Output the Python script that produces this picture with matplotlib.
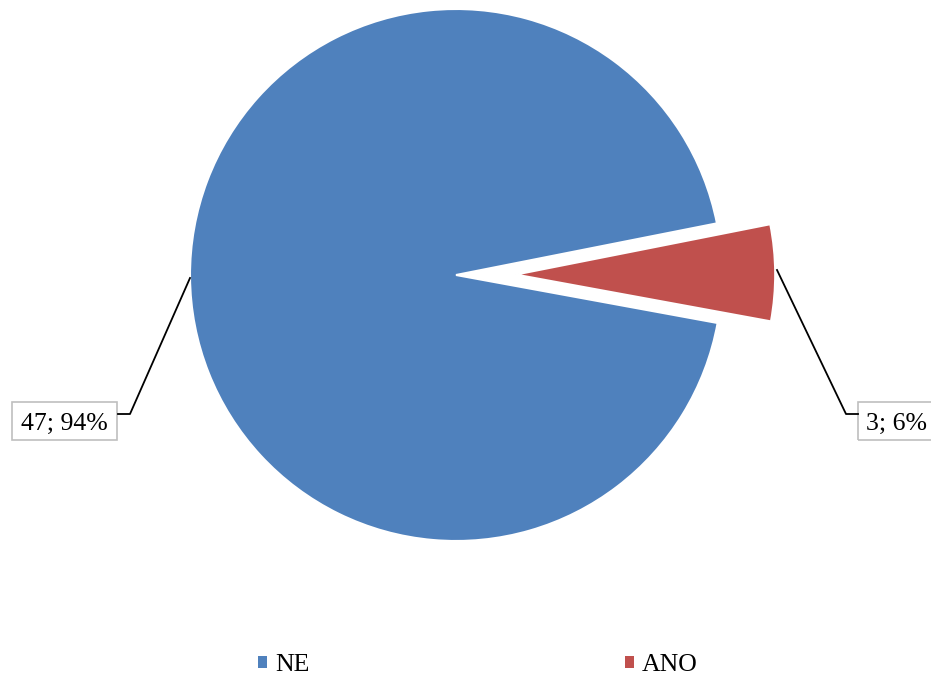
import matplotlib
matplotlib.use('Agg')
import matplotlib.pyplot as plt
from matplotlib.patches import Rectangle
import numpy as np

plt.rcParams['font.family'] = ['Liberation Serif', 'DejaVu Serif']

labels = ['NE', 'ANO']
counts = [47, 3]
percents = [94, 6]
colors = ['#4F81BD', '#C0504D']
explode = [0.0, 0.225]

W, H = 931, 676
cx, cy, R = 456, 275, 266

fig = plt.figure(figsize=(W / 100, H / 100), dpi=100)
ax = fig.add_axes([0, 0, 1, 1])
ax.axis('off')

half = 360 * counts[1] / sum(counts) / 2
wedges, _ = ax.pie(counts, colors=colors, explode=explode, radius=1.0,
                   startangle=half + 0.4, counterclock=True,
                   wedgeprops=dict(edgecolor='white', linewidth=1.5))
# the pulled-out slice is drawn a little smaller
wedges[1].set_radius(0.975)

# pie() resets the view, so fix the pixel mapping afterwards
ax.set_aspect('auto')
ax.set_xlim(-cx / R, (W - cx) / R)
ax.set_ylim(-(H - cy) / R, cy / R)

def px(x, y):
    return ((x - cx) / R, (cy - y) / R)

fs = 18.5
# data labels with leader lines
lab = ['%d; %d%%' % (c, p) for c, p in zip(counts, percents)]

pts = [px(190, 278), px(130, 414), px(118, 414)]
ax.plot(*zip(*pts), color='black', lw=1.3)
x0, y0 = px(12, 440)
x1, y1 = px(117, 402)
ax.add_patch(Rectangle((x0, y0), x1 - x0, y1 - y0, fill=False,
                       edgecolor='#BFBFBF', lw=1.2))
ax.text((x0 + x1) / 2, (y0 + y1) / 2, lab[0], fontsize=fs,
        ha='center', va='center_baseline')

pts = [px(777, 270), px(846, 414), px(858, 414)]
ax.plot(*zip(*pts), color='black', lw=1.3)
x0, y0 = px(858, 440)
x1, y1 = px(935, 402)
ax.add_patch(Rectangle((x0, y0), x1 - x0, y1 - y0, fill=False,
                       edgecolor='#BFBFBF', lw=1.2))
ax.text(px(866, 0)[0], (y0 + y1) / 2, lab[1], fontsize=fs,
        ha='left', va='center_baseline')

leg = ax.legend(wedges, labels, loc='center', ncol=2, frameon=False,
                bbox_to_anchor=(478 / W, 1 - 665 / H), fontsize=fs,
                handlelength=0.35, handleheight=0.35, handletextpad=0.3,
                columnspacing=12.3, borderpad=0, borderaxespad=0)
for h in leg.legend_handles:
    h.set_edgecolor('none')

fig.savefig('out.png', dpi=100)
